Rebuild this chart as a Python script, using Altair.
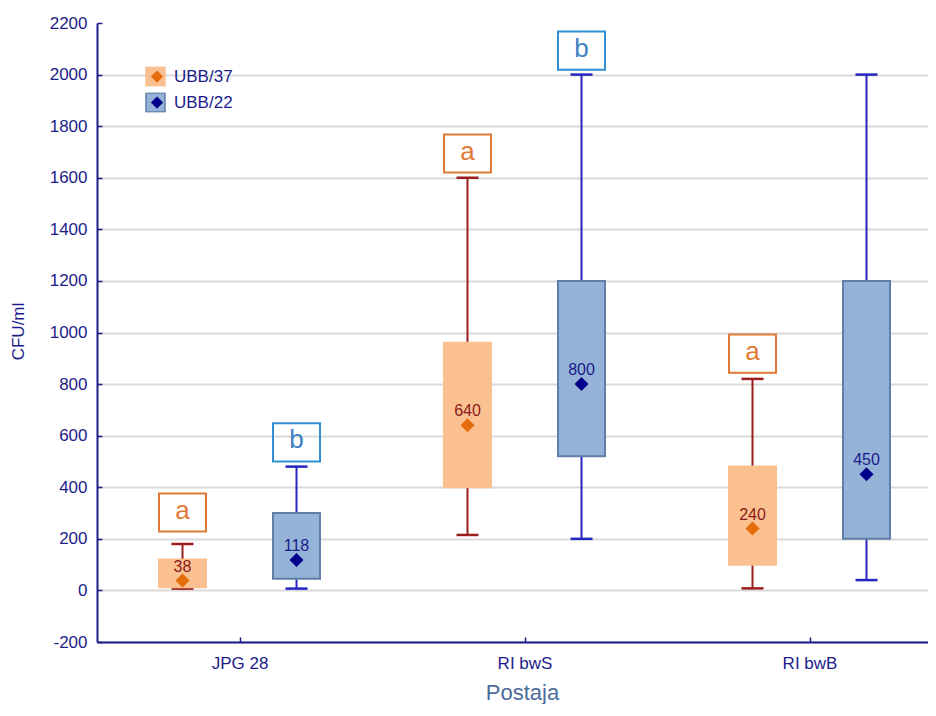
import json
import altair as alt
import pandas as pd

# ---------------- data ----------------
categories = ["JPG 28", "RI bwS", "RI bwB"]
series = ["UBB/37", "UBB/22"]

s37_min = [7, 215, 8]
s37_q1 = [12, 400, 100]
s37_mean = [38, 640, 240]
s37_q3 = [120, 960, 480]
s37_max = [180, 1600, 820]
s37_letter = ["a", "a", "a"]
s37_letter_y = [302, 1694, 918]

s22_min = [7, 200, 40]
s22_q1 = [45, 520, 200]
s22_mean = [118, 800, 450]
s22_q3 = [300, 1200, 1200]
s22_max = [480, 2000, 2000]
s22_letter = ["b", "b", ""]
s22_letter_y = [574, 2093, None]

y_ticks = list(range(-200, 2201, 200))

# ---------------- styles ----------------
box_fill = ["#fac090", "#95b3d7"]
box_stroke = ["#fac090", "#5f7fa8"]
whisker_col = ["#9b1d1d", "#2525c0"]
mean_col = ["#e46c0a", "#00008c"]
label_col = ["#8b1a1a", "#1a1a8c"]
letter_stroke = ["#e07a35", "#2f8fd2"]
letter_text = ["#e07a35", "#3d80c2"]
NAVY = "#1c1c8a"
FONT = "Liberation Sans"

W, H = 831, 619
PX = 285.0                      # pixels per category step
offsets = [-0.2, 0.2]
box_half = 23.5 / PX
cap_half = 11.0 / PX

raw = [
    (s37_min, s37_q1, s37_mean, s37_q3, s37_max, s37_letter, s37_letter_y),
    (s22_min, s22_q1, s22_mean, s22_q3, s22_max, s22_letter, s22_letter_y),
]

mkey = ["m " + s for s in series]

rows = []
for si, (mn, q1, me, q3, mx, let, ly) in enumerate(raw):
    for ci, cat in enumerate(categories):
        xc = ci + 0.5 + offsets[si]
        rows.append(dict(
            series=series[si], series_m=mkey[si], si=si, cat=cat, xc=xc,
            bl=xc - box_half, br=xc + box_half,
            cl=xc - cap_half, cr=xc + cap_half,
            mn=mn[ci], q1=q1[ci], mean=me[ci], q3=q3[ci], mx=mx[ci],
            lab=str(me[ci]), letter=let[ci], letter_y=ly[ci],
        ))
df = pd.DataFrame(rows)

x_scale = alt.Scale(domain=[0, W / PX], nice=False, zero=False)
y_scale = alt.Scale(domain=[-200, 2200], nice=False, zero=False)

label_expr = json.dumps(categories) + "[floor(datum.value)]"

x_axis = alt.Axis(
    values=[0.5, 1.5, 2.5], labelExpr=label_expr, grid=False,
    title="Postaja", titleColor="#4d6c9c", titleFont=FONT, titleFontSize=22,
    titleFontWeight="normal", titleX=425, titleY=50, titleBaseline="middle",
    titleAnchor="start", titleAlign="center",
    labelFont=FONT, labelFontSize=17, labelColor=NAVY, labelPadding=18,
    domainColor=NAVY, domainWidth=2, tickColor=NAVY, tickWidth=1.5,
    tickSize=alt.ExprRef(expr="-5"),
)
y_axis = alt.Axis(
    values=y_ticks, grid=True, gridColor="#dadada", gridWidth=2,
    gridOpacity={"condition": {"test": "datum.value >= 2200", "value": 0}, "value": 1},
    labelExpr="'' + datum.value",
    title="CFU/ml", titleColor=NAVY, titleFont=FONT, titleFontSize=17,
    titleFontWeight="normal", titleX=-79, titleY=308, titleAngle=-90,
    titleAlign="center", titleBaseline="middle",
    labelFont=FONT, labelFontSize=17, labelColor=NAVY, labelPadding=15,
    domainColor=NAVY, domainWidth=2, tickColor=NAVY, tickWidth=1.5,
    tickSize=alt.ExprRef(expr="-5"),
)

X = lambda f: alt.X(f"{f}:Q", scale=x_scale, axis=x_axis, title="Postaja")
Y = lambda f: alt.Y(f"{f}:Q", scale=y_scale, axis=y_axis, title="CFU/ml")

layers = []

for si in range(2):
    d = df[df.si == si]
    layers.append(alt.Chart(d).mark_rule(color=whisker_col[si], strokeWidth=2).encode(
        x=X("xc"), y=Y("mn"), y2="mx"))
    layers.append(alt.Chart(d).mark_rule(color=whisker_col[si], strokeWidth=2.5).encode(
        x=X("cl"), x2="cr", y=Y("mn")))
    layers.append(alt.Chart(d).mark_rule(color=whisker_col[si], strokeWidth=2.5).encode(
        x=X("cl"), x2="cr", y=Y("mx")))

legend_common = dict(
    orient="none", title=None, padding=0, labelFont=FONT, labelFontSize=17,
    labelColor=NAVY, rowPadding=6, clipHeight=20, legendY=43.6,
)
box_legend = alt.Legend(legendX=48, symbolType="square",
                        symbolSize=361, symbolStrokeWidth=1.5,
                        labelOffset=8, **legend_common)

layers.append(alt.Chart(df).mark_bar(strokeWidth=2).encode(
    x=X("bl"), x2="br", y=Y("q1"), y2="q3",
    fill=alt.Fill("series:N", scale=alt.Scale(domain=series, range=box_fill), legend=box_legend),
    stroke=alt.Stroke("series:N", scale=alt.Scale(domain=series, range=box_stroke), legend=box_legend),
))

# mean diamonds; their legend only adds the diamond glyphs over the squares
layers.append(alt.Chart(df).mark_point(shape="diamond", filled=True, size=196, opacity=1).encode(
    x=X("xc"), y=Y("mean"),
    color=alt.Color("series_m:N", scale=alt.Scale(domain=mkey, range=mean_col),
                    legend=alt.Legend(legendX=51.5, symbolType="diamond",
                                      symbolSize=150, symbolOpacity=1, labelExpr="''",
                                      labelOffset=15.5, **legend_common)),
))

for si in range(2):
    d = df[df.si == si]
    layers.append(alt.Chart(d).mark_text(dy=-14, font=FONT, fontSize=16,
                                         color=label_col[si], baseline="middle").encode(
        x=X("xc"), y=Y("mean"), text="lab:N"))
    dl = d[d.letter != ""]
    layers.append(alt.Chart(dl).mark_point(
        shape="M-1,-0.81L1,-0.81L1,0.81L-1,0.81Z", size=2209, filled=False,
        strokeWidth=2, color=letter_stroke[si], opacity=1).encode(
        x=X("xc"), y=Y("letter_y")))
    layers.append(alt.Chart(dl).mark_text(font=FONT, fontSize=26, dy=-2,
                                          color=letter_text[si], baseline="middle").encode(
        x=X("xc"), y=Y("letter_y"), text="letter:N"))

chart = alt.layer(*layers).properties(
    width=W, height=H,
    autosize=alt.AutoSizeParams(type="none"),
    padding={"left": 89, "top": 15, "right": 0, "bottom": 62},
    background="white",
).configure_view(stroke=None)

chart.save("out.html", embed_options={"renderer": "svg", "actions": False})
